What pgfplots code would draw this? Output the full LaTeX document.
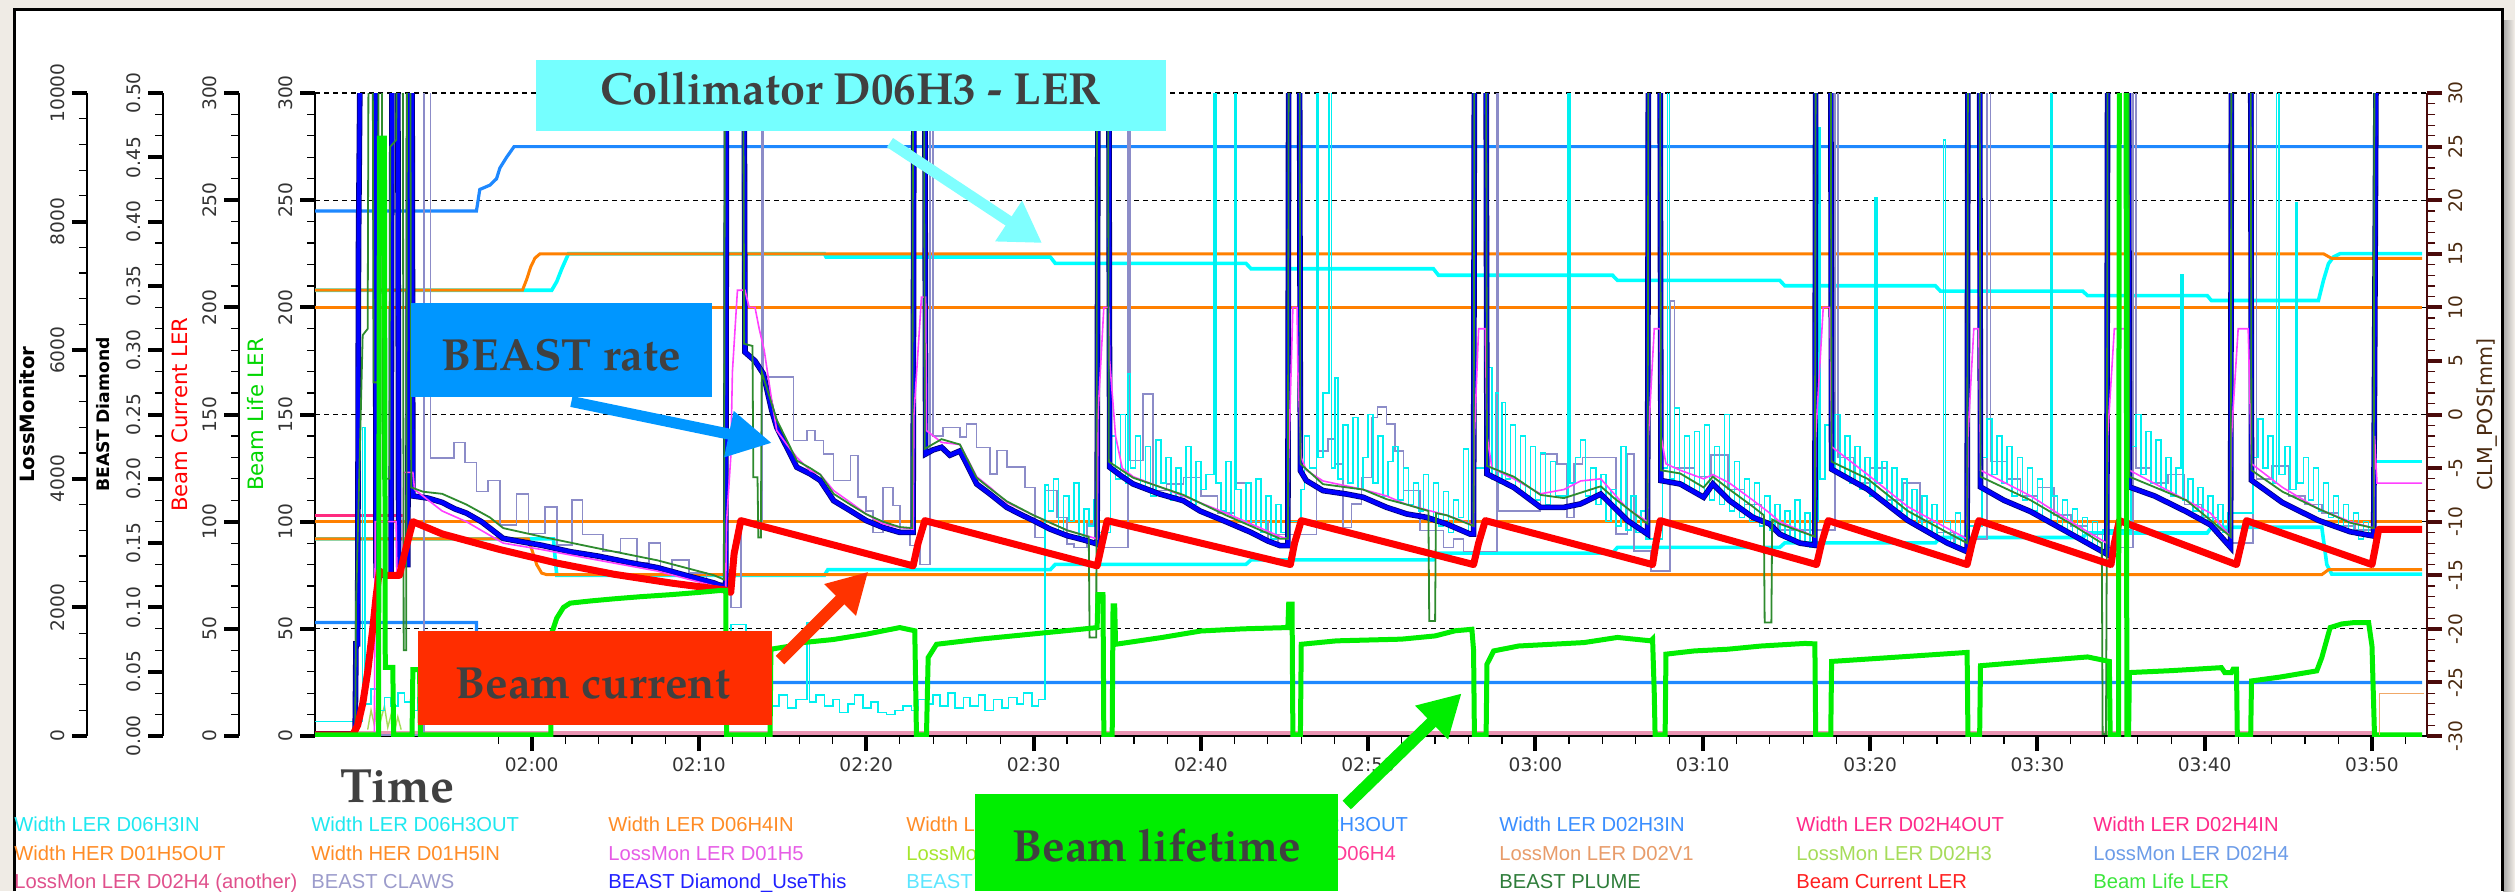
\documentclass[border=0pt]{standalone}
\usepackage{fontspec}
\usepackage{pgfplots}
\pgfplotsset{compat=1.18}
\usepackage{pgfplotstable}
\usetikzlibrary{arrows.meta}
\setmainfont{DejaVu Sans}
\newfontfamily\dejavu{DejaVu Sans}
\newfontfamily\legfont{Liberation Sans}
\IfFontExistsTF{TeX Gyre Pagella}{\newfontfamily\annfont{TeX Gyre Pagella}}{\newfontfamily\annfont{Liberation Serif}}
\newcommand{\tickfont}{\dejavu\fontsize{9.3}{10}\selectfont}
\newcommand{\legf}{\legfont\fontsize{10.1}{11}\selectfont}
\newcommand{\annf}{\annfont\bfseries\fontsize{22.5}{24}\selectfont}

\definecolor{bgbeige}{HTML}{EFEBE5}
\definecolor{cyanC}{HTML}{00FFFF}
\definecolor{orangeC}{HTML}{FF8000}
\definecolor{blueC}{HTML}{1E88FF}
\definecolor{pinkC}{HTML}{FF2A7F}
\definecolor{beamred}{HTML}{FF0000}
\definecolor{lifegreen}{HTML}{00EE00}
\definecolor{diamond}{HTML}{0000FF}
\definecolor{navyC}{HTML}{00007A}
\definecolor{plume}{HTML}{2E8B2E}
\definecolor{magC}{HTML}{FF40FF}
\definecolor{claws}{HTML}{8C8CC8}
\definecolor{fangs}{HTML}{00F0F0}
\definecolor{maroonC}{HTML}{4A0A0A}
\definecolor{maroonT}{HTML}{4A2A10}
\definecolor{ticktext}{HTML}{333333}
\definecolor{anntext}{HTML}{404040}
\definecolor{collbox}{HTML}{75FFFF}
\definecolor{beastbox}{HTML}{0096FF}
\definecolor{currbox}{HTML}{FF2D00}
\definecolor{lifebox}{HTML}{00EE00}
\definecolor{arrcyan}{HTML}{7FFFFF}
\definecolor{arrred}{HTML}{FF3300}
\definecolor{noiseband}{HTML}{E67AA0}
\definecolor{lgC}{HTML}{A6DC5A}
\definecolor{bracketC}{HTML}{F0A868}

\pgfplotsset{
  /pgf/number format/assume math mode=true,
  sideaxis/.style={
    anchor=south west, scale only axis, width=10pt, height=321.5pt,
    hide x axis, axis y line*=left, xmin=0, xmax=1,
    tick align=outside, major tick length=7.5pt, minor tick length=4pt,
    axis line style={line width=1.3pt, black},
    major tick style={line width=2pt, black},
    minor tick style={line width=0.6pt, black},
    yticklabel style={rotate=90, anchor=south, font=\tickfont, text=ticktext},
  },
}

\pgfplotstableread{
t v
107.05 1
109.45 1
109.5 43
109.6 43
109.65 228
109.75 320
110.65 320
110.7 75
111.6 75
111.65 320
112.0 320
112.05 80
112.6 80
112.65 320
112.85 320
112.9 112
113.8 111
114.65 109
115.4 106
116.1 104
117.0 100
117.5 97
118.3 92.2
119.5 90.5
120.6 89
122.3 86
124.0 83.9
125.8 81
127.5 78.6
129.2 75
130.9 71.4
131.6 69.2
131.65 320
132.7 320
132.75 179.1
133.35 175
133.85 169
134.35 151.9
134.65 144
135.25 134.7
135.85 125.4
136.65 122.3
137.25 119.2
138.05 109.8
139.05 105.1
140.0 100.5
141.0 97.3
142.0 95
142.8 95
142.85 320
143.5 320
143.55 131.6
144.0 133.5
144.5 134.7
145.0 131
145.6 133
146.0 127
146.6 117.6
147.4 112.9
148.4 106.7
149.2 103.5
150.0 100.5
151.0 96.5
152.0 93.5
153.0 91.5
153.8 89.6
153.85 320
154.5 320
154.55 125.4
155.3 121
155.95 117.6
157.5 113
158.95 109.8
159.95 105
161.5 100
163.0 95
164.0 91
164.75 88.8
165.2 88.8
165.25 320
165.9 320
165.95 123.8
166.3 119.2
167.3 114.5
168.7 112.9
169.7 111.4
171.1 106.7
172.3 103.6
173.5 102
174.7 98.9
176.1 94.2
176.3 94.2
176.35 320
177.05 320
177.1 122.3
178.7 116
180.3 106.7
181.7 106.7
182.7 108.3
183.9 112.9
184.7 106.7
185.5 100.5
186.7 94.2
186.75 320
187.45 320
187.5 119.2
188.65 117.6
190.05 111.4
190.6 117.6
191.6 109.8
193.0 102
194.0 98.9
194.6 94.2
195.8 90
196.7 89
196.75 320
197.65 320
197.7 124.5
199.85 115.1
202.25 100.6
204.6 90.1
205.8 86
205.85 320
206.55 320
206.6 116.2
208.0 110
209.6 104.7
212.0 94.3
214.15 84.9
214.2 320
215.45 320
215.5 116.2
217.0 112
218.9 104.7
220.35 98.5
221.55 88
221.6 320
222.75 320
222.8 119.3
224.65 108.9
226.8 100.6
228.7 95.3
230.1 93.3
230.15 163
230.25 320
233.0 320
}\beast

\begin{document}
\begin{tikzpicture}
\begin{scope}[x=0.5pt,y=-0.5pt]
\fill[bgbeige] (0,0) rectangle (2515,891);
\shade[left color=black!35, right color=bgbeige] (2503,20) rectangle (2514,891);
\fill[white] (14,9) rectangle (2502,891);
\draw[black, line width=1.5pt] (14,891) -- (14,9) -- (2502,9) -- (2502,891);
% axis titles
\node[rotate=90, font=\dejavu\bfseries\fontsize{9.85}{11}\selectfont, text=black] at (27,414.5) {LossMonitor};
\node[rotate=90, font=\dejavu\bfseries\fontsize{8.6}{10}\selectfont, text=black] at (103,414.5) {BEAST Diamond};
\node[rotate=90, font=\dejavu\fontsize{10.6}{12}\selectfont, text=beamred] at (180,414.5) {Beam Current LER};
\node[rotate=90, font=\dejavu\fontsize{10.6}{12}\selectfont, text=lifegreen!90!black] at (255.5,414.5) {Beam Life LER};
\node[rotate=90, font=\dejavu\fontsize{10.3}{12}\selectfont, text=maroonT] at (2487,414.5) {CLM\_POS[mm]};
% Time
\node[anchor=base west, font={\annfont\bfseries\fontsize{24}{26}\selectfont}, text=anntext, inner sep=0pt] at (340,802) {Time};
% legend
\foreach \x/\y/\c/\t in {
 14/831/1EE8F0/{Width LER D06H3IN},
 311/831/1EE8F0/{Width LER D06H3OUT},
 608/831/FF8C26/{Width LER D06H4IN},
 906/831/FF8C26/{Width LER D06H4OUT},
 1200/831/3A8EFF/{Width LER D02H3OUT},
 1499/831/3A8EFF/{Width LER D02H3IN},
 1796/831/FF2A8A/{Width LER D02H4OUT},
 2093/831/FF2A8A/{Width LER D02H4IN},
 14/860/FF8C26/{Width HER D01H5OUT},
 311/860/FF8C26/{Width HER D01H5IN},
 608/860/E65CE6/{LossMon LER D01H5},
 906/860/A6E62E/{LossMon LER D06H3},
 1200/860/FF3C96/{LossMon LER D06H4},
 1499/860/E89C6A/{LossMon LER D02V1},
 1796/860/A6DC5A/{LossMon LER D02H3},
 2093/860/6C9CE8/{LossMon LER D02H4},
 14/888/E0508C/{LossMon LER D02H4 (another)},
 311/888/9C9CCC/{BEAST CLAWS},
 608/888/2020FF/{BEAST Diamond\_UseThis},
 906/888/5CE6FF/{BEAST FANGS},
 1499/888/2E7D3A/{BEAST PLUME},
 1796/888/FF2020/{Beam Current LER},
 2093/888/3CE63C/{Beam Life LER}}{
  \definecolor{legc}{HTML}{\c}
  \node[anchor=base west, inner sep=0pt, font=\legf, text=legc] at (\x,\y) {\t};
}
\end{scope}

% LossMonitor axis
\begin{axis}[sideaxis, at={(43.5pt,-368pt)}, ymin=0, ymax=10000,
  ytick={0,2000,4000,6000,8000,10000}, yticklabels={0,2000,4000,6000,8000,10000},
  minor y tick num=4, scaled y ticks=false]
\addplot[draw=none] coordinates {(0,0)};
\end{axis}
% BEAST Diamond axis
\begin{axis}[sideaxis, at={(81.5pt,-368pt)}, ymin=0, ymax=0.5,
  ytick={0,0.05,0.1,0.15,0.2,0.25,0.3,0.35,0.4,0.45,0.5},
  yticklabels={0.00,0.05,0.10,0.15,0.20,0.25,0.30,0.35,0.40,0.45,0.50},
  minor y tick num=2, scaled y ticks=false]
\addplot[draw=none] coordinates {(0,0)};
\end{axis}
% Beam Current axis
\begin{axis}[sideaxis, at={(119.5pt,-368pt)}, ymin=0, ymax=300,
  ytick={0,50,...,300}, minor y tick num=4]
\addplot[draw=none] coordinates {(0,0)};
\end{axis}

% right CLM axis
\begin{axis}[at={(157.5pt,-368pt)}, anchor=south west, scale only axis,
  width=1056pt, height=321.5pt, hide x axis, axis y line*=right,
  xmin=0, xmax=1, ymin=-30, ymax=30, ytick={-30,-25,...,30}, minor y tick num=4,
  tick align=outside, major tick length=7.5pt, minor tick length=4pt,
  axis line style={line width=1.3pt, maroonC},
  major tick style={line width=2pt, maroonC},
  minor tick style={line width=0.6pt, maroonC},
  yticklabel style={rotate=90, anchor=north, font=\tickfont, text=maroonT}]
\addplot[draw=none] coordinates {(0,0)};
\end{axis}

% main axis
\begin{axis}[at={(157.5pt,-368pt)}, anchor=south west, scale only axis,
  width=1056pt, height=321.5pt,
  xmin=107.05, xmax=233.29, ymin=0, ymax=300,
  axis x line*=bottom, axis y line*=left,
  axis line style={line width=1.3pt, black},
  tick align=outside, major tick length=7.5pt, minor tick length=4pt,
  major tick style={line width=2pt, black},
  minor tick style={line width=0.6pt, black},
  xtick={120,130,...,230},
  xticklabels={02:00,02:10,02:20,02:30,02:40,02:50,03:00,03:10,03:20,03:30,03:40,03:50},
  minor xtick={118,120,...,232},
  ytick={0,50,...,300}, minor y tick num=4,
  ymajorgrids, grid style={black, line width=0.6pt, dash pattern=on 2.5pt off 2pt},
  xticklabel style={font=\tickfont, text=ticktext},
  yticklabel style={rotate=90, anchor=south, font=\tickfont, text=ticktext},
  clip=true]

% bottom loss-monitor noise band
\addplot[noiseband, line width=2.2pt, opacity=0.8] coordinates {(109.5,1.5)(230.3,1.5)};
\addplot[lgC, line width=0.7pt] coordinates {(110.2,3)(110.4,12)(110.6,5)(110.8,18)(111.0,8)(111.2,14)(111.4,4)(111.6,10)(111.8,2)(112.0,9)(112.2,3)};

% collimator widths: cyan
\addplot[cyanC, line width=1.8pt] coordinates {(107.05,208)(121.2,208)(121.5,212)(121.8,218)(122.2,225)(137.5,225)(137.6,223.5)(151.0,223.5)(151.3,220.5)(162.7,220.5)(163.0,218)(173.9,218)(174.2,215)(184.6,215)(184.9,212.6)(194.6,212.6)(194.9,210.1)(203.9,210.1)(204.2,207.6)(212.7,207.6)(213.0,205.5)(220.15,205.5)(220.4,203.2)(226.8,203.2)(227.1,212.6)(227.4,220.4)(227.7,223.5)(228.1,225.1)(233.0,225.1)};
\addplot[cyanC, line width=1.8pt] coordinates {(107.05,92)(121.3,92)(121.5,75)(137.5,75)(137.7,77.6)(151.0,77.6)(151.3,80.1)(162.7,80.1)(163.0,82.2)(173.9,82.2)(174.2,85.3)(184.6,85.3)(184.9,88.0)(194.6,88.0)(194.9,90.1)(203.9,90.1)(204.2,92.6)(212.7,92.6)(213.0,94.7)(220.15,94.7)(220.4,97.4)(227.0,97.4)(227.3,80)(227.6,75.5)(233.0,75.5)};
% orange
\addplot[orangeC, line width=1.5pt] coordinates {(107.05,200)(233.0,200)};
\addplot[orangeC, line width=1.5pt] coordinates {(107.05,100)(233.0,100)};
\addplot[orangeC, line width=1.5pt] coordinates {(107.05,208)(119.45,208)(119.7,213)(119.95,219)(120.2,223)(120.5,225)(227.1,225)(227.6,222.8)(233.0,222.8)};
\addplot[orangeC, line width=1.5pt] coordinates {(107.05,92)(119.8,92)(120.3,80)(120.6,76)(120.9,75.3)(227.0,75.3)(227.4,77.6)(233.0,77.6)};
% blue
\addplot[blueC, line width=1.6pt] coordinates {(107.05,245)(116.7,245)(116.9,255)(117.5,257)(117.9,260)(118.1,265)(118.5,270)(118.95,275)(233.0,275)};
\addplot[blueC, line width=1.6pt] coordinates {(107.05,53)(116.7,53)(116.75,25)(233.0,25)};
% pink D02H4
\addplot[pinkC, line width=1.6pt] coordinates {(107.05,103)(112.3,103)};

% BEAST CLAWS
\addplot[claws, line width=0.8pt, const plot] coordinates {(107.05,0.5)(113.55,320)(113.95,129.7)(115.35,137)(116.0,127.7)(116.7,114)(117.4,119.3)(118.1,98.5)(119.1,113)(119.8,94.4)(120.8,106.8)(121.5,89)(122.4,110)(123.05,94)(124.25,86)(125.3,92.2)(126.3,80.7)(127.0,90)(127.7,77.6)(128.4,82)(129.4,76)(130.45,71.3)(131.45,70)(131.9,60)(132.5,100)(133.75,320)(133.85,167.4)(135.65,137.9)(136.45,142.5)(136.95,137.9)(137.45,131.6)(138.05,119.2)(139.05,130.8)(139.5,111.4)(140.0,105.1)(140.4,95)(141.0,116)(141.6,107.5)(142.0,95.8)(142.6,88.8)(143.2,80)(143.8,320)(144.0,140)(144.6,144)(145.6,139.4)(146.0,145.6)(146.6,134.7)(147.4,122.3)(147.8,133.2)(148.4,125.4)(149.5,116)(150.1,92.6)(150.7,114.5)(151.4,102)(152.0,89.6)(152.4,88)(153.2,98.9)(153.8,88)(155.65,320)(155.75,128.5)(156.55,159.7)(157.15,114.5)(157.95,117.6)(158.95,120.7)(160.0,112)(161.0,104)(162.0,118)(163.0,100)(164.0,90)(164.6,94)(166.9,320)(167.0,133)(167.6,138.6)(168.0,127)(168.5,97.3)(169.0,108.3)(169.6,120.7)(170.2,148.7)(170.55,153.4)(171.1,145.6)(171.6,133)(172.1,114.5)(173.1,95.8)(174.5,88)(175.1,92)(175.7,86)(177.7,320)(177.8,105.1)(180.3,131.6)(181.3,127)(181.9,102)(182.3,127)(182.8,130)(184.8,94.2)(185.5,131.6)(185.9,86.4)(186.9,77.1)(188.05,203)(188.3,125)(189.5,121)(190.5,131)(191.5,115)(192.5,108)(193.5,100)(194.5,96)(197.9,320)(198.1,130)(199.0,118)(200.0,125)(201.0,110)(202.0,118)(203.0,100)(204.0,95)(205.0,88)(205.8,92)(207.0,320)(207.2,128)(208.2,120)(209.0,112)(210.0,116)(211.0,103)(212.0,98)(213.0,94)(214.0,88)(215.7,320)(215.9,125)(216.8,118)(217.8,122)(218.8,108)(219.8,102)(220.8,96)(221.5,90)(222.9,320)(223.1,120)(224.0,126)(225.0,112)(226.0,108)(227.0,104)(228.0,98)(229.0,96)(230.1,94)(230.15,94)};

% BEAST FANGS (cyan noise)
\addplot[fangs, line width=0.8pt, const plot] coordinates {(107.05,6.7)(109.9,144)(110.05,15)(110.4,22)(110.8,12)(111.2,18)(111.6,14)(112.0,20)(112.4,16)(112.8,12)(113.2,18)(114,15)(115,19)(116,12)(117,17)(118,14)(119,20)(120,13)(121,16)(122,18)(123,12)(124,15)(125,19)(126,14)(127,17)(128,12)(129,16)(130,14)(131,18)(131.9,52)(132.8,15)(133.5,18)(134.3,14)(134.8,19)(135.3,13)(135.8,17)(136.45,53)(136.6,16)(137.0,19)(137.5,14)(138.0,17)(138.4,11)(138.9,15)(139.3,19)(139.8,13)(140.3,16)(140.7,11)(141.2,10)(141.7,12)(142.2,14)(142.7,12)(143.1,17)(143.6,15)(144.0,19)(144.4,14)(144.9,20)(145.3,13)(145.8,18)(146.2,14)(146.7,19)(147.1,12)(147.6,17)(148.1,13)(148.5,18)(149.0,15)(149.4,20)(149.9,14)(150.3,17)(150.7,117)(150.9,105)(151.2,120)(151.5,95)(151.8,112)(152.1,100)(152.4,118)(152.7,92)(153.0,106)(153.3,98)(153.6,110)(153.85,95)(154.6,140)(154.9,120)(155.2,150)(155.5,118)(155.65,169)(155.8,125)(156.1,140)(156.4,115)(156.7,135)(157.0,112)(157.3,138)(157.6,118)(157.9,130)(158.2,110)(158.5,125)(158.8,112)(159.1,135)(159.4,108)(159.7,128)(160.0,115)(160.3,122)(160.8,320)(160.9,118)(161.2,105)(161.5,128)(161.8,102)(162.0,320)(162.1,115)(162.4,100)(162.7,118)(163.0,98)(163.3,120)(163.6,95)(163.9,112)(164.2,92)(164.5,108)(164.8,95)(165.1,133)(165.3,100)(166.0,115)(166.2,140)(166.5,125)(166.9,320)(167.0,130)(167.3,160)(167.65,320)(167.8,125)(168.0,167)(168.2,120)(168.5,145)(168.8,118)(169.1,148.7)(169.4,115)(169.7,130)(170.0,150)(170.3,118)(170.6,140)(170.9,112)(171.2,128)(171.5,135)(171.8,110)(172.1,125)(172.4,108)(172.7,118)(173.0,105)(173.3,122)(173.6,100)(173.9,118)(174.2,98)(174.5,114)(174.8,95)(175.1,110)(175.4,102)(175.7,134)(176.0,94)(176.3,125)(177.2,172)(177.4,120)(177.6,160)(177.8,118)(178.0,155.7)(178.2,120)(178.5,145)(178.8,115)(179.1,140)(179.4,112)(179.7,135)(180.0,110)(180.3,132)(180.6,108)(180.9,128)(181.2,112)(181.95,320)(182.05,118)(182.4,130)(182.7,138)(183.0,112)(183.3,125)(183.6,108)(183.9,122)(184.2,100)(184.5,115)(184.8,98)(185.1,135)(185.4,96)(185.7,112)(186.0,95)(186.3,105)(186.6,92)(187.6,125)(187.9,320)(188.0,120)(188.3,153)(188.6,118)(188.9,140)(189.2,115)(189.5,142)(189.8,112)(190.1,145)(190.4,110)(190.7,135)(191.0,108)(191.3,150)(191.6,105)(191.9,128)(192.2,102)(192.5,120)(192.8,100)(193.1,118)(193.4,98)(193.7,112)(194.0,96)(194.3,108)(194.6,94)(194.9,105)(195.2,92)(195.5,110)(195.8,90)(196.1,104)(196.4,88)(196.7,100)(196.9,284)(197.0,120)(197.3,145)(197.6,125)(197.9,150)(198.2,122)(198.5,140)(198.8,118)(199.1,135)(199.4,115)(199.7,130)(200.0,112)(200.3,251)(200.4,118)(200.7,128)(201.0,108)(201.3,125)(201.6,105)(201.9,120)(202.2,100)(202.5,115)(202.8,98)(203.1,112)(203.4,95)(203.7,108)(204.0,92)(204.4,278)(204.5,100)(204.8,90)(205.1,104)(205.4,88)(205.7,98)(206.7,130)(207.0,148)(207.3,122)(207.6,140)(207.9,118)(208.2,135)(208.5,112)(208.8,130)(209.1,110)(209.4,125)(209.7,105)(210.0,120)(210.3,100)(210.8,320)(210.9,112)(211.2,98)(211.5,110)(211.8,95)(212.1,106)(212.4,92)(212.7,102)(213.0,90)(213.3,100)(213.6,88)(213.9,96)(215.6,135)(215.9,150)(216.2,122)(216.5,142)(216.8,118)(217.1,138)(217.4,115)(217.7,130)(218.0,112)(218.3,125)(218.6,215)(218.7,110)(219.0,120)(219.3,105)(219.6,116)(219.9,100)(220.2,112)(220.5,98)(220.8,108)(221.1,95)(221.4,104)(222.9,130)(223.2,148)(223.5,125)(223.8,140)(224.1,118)(224.3,320)(224.45,122)(224.8,135)(225.1,115)(225.45,249)(225.55,118)(225.9,130)(226.2,110)(226.5,125)(226.8,105)(227.1,118)(227.4,102)(227.7,112)(228.0,98)(228.3,108)(228.6,95)(228.9,104)(229.2,92)(229.5,100)(229.8,95)(230.1,93)(230.15,93)};

% BEAST Diamond (navy outline + blue)
\addplot[navyC, line width=2.8pt] table[x=t,y=v] {\beast};
\addplot[diamond, line width=2.0pt] table[x=t,y=v] {\beast};

% LossMon D01H5 (magenta)
\addplot[magC, line width=0.8pt] coordinates {(107.05,0.5)(110.6,0.5)(110.65,100)(111.9,100)(111.95,75)(112.3,75)(112.35,123)(112.9,123)(113.0,115)(114.65,105)(116.1,100)(118.3,90)(120.6,87)(124.0,82)(127.5,77)(130.9,70)(131.6,69)(131.65,100)(131.9,130)(132.0,170)(132.3,208)(132.75,208)(133.0,200)(133.35,200)(133.6,190)(133.9,180)(134.35,156.5)(134.65,142.5)(135.25,136)(135.85,130)(136.65,123.8)(137.25,122)(138.05,114.5)(139.05,109)(140.0,103.6)(141.0,99)(142.0,97.3)(142.8,96.5)(142.85,150)(143.3,204.8)(143.55,204.8)(143.6,142.5)(144.5,137)(145.6,136)(146.0,130)(146.6,121)(147.4,116)(148.4,109)(150.0,103)(152.0,96)(153.8,92)(153.85,150)(154.2,200)(154.5,200)(154.55,175)(154.9,140)(155.3,125)(155.95,121)(158.95,112)(161.5,104)(164.75,93)(165.2,92)(165.25,130)(165.5,200)(165.75,200)(165.8,170)(166.0,130)(166.3,124)(167.3,119)(169.7,115)(171.1,112)(172.3,108)(174.7,103)(176.1,99)(176.3,98)(176.35,140)(176.6,190)(177.0,190)(177.1,140)(177.4,125)(178.7,120)(180.3,113)(181.7,115)(182.7,119)(183.9,120)(184.7,113)(185.5,106)(186.7,100)(186.75,140)(187.1,190)(187.45,190)(187.5,140)(187.8,127)(188.65,124)(190.05,120)(190.6,122)(191.6,118)(193.0,110)(194.0,104)(194.6,100)(196.7,93)(196.75,140)(197.2,200)(197.6,200)(197.7,135)(199.85,122)(202.25,107)(204.6,97)(205.8,92)(205.85,140)(206.2,190)(206.5,190)(206.6,124)(209.6,112)(212.0,100)(214.15,90)(214.2,140)(214.6,190)(215.3,190)(215.5,124)(218.9,110)(220.35,104)(221.55,93)(221.6,140)(222.0,190)(222.6,190)(222.8,127)(224.65,116)(226.8,106)(228.7,100)(230.1,97)(230.15,140)(230.3,118)(233.0,118)};

% BEAST PLUME (dark green)
\addplot[plume, line width=0.9pt] coordinates {(107.05,1)(109.45,1)(109.5,60)(109.9,187)(110.2,190)(110.25,320)(110.5,320)(110.55,165)(110.8,165)(110.85,320)(111.05,320)(111.1,120)(111.5,120)(111.55,275)(111.9,278)(111.95,320)(112.3,320)(112.35,40)(112.5,40)(112.55,320)(112.75,320)(112.8,116)(113.5,114)(114.65,113)(116.1,108)(117.5,102)(118.3,97)(120.6,93)(124.0,87.5)(127.5,82)(130.9,75)(131.5,73)(131.55,320)(132.65,320)(132.7,183)(133.2,182)(133.25,120.7)(133.5,120.7)(133.55,92.6)(133.7,92.6)(133.75,170)(134.35,155)(134.65,147.5)(135.25,138)(135.85,128.5)(136.65,125)(137.25,122)(138.05,113)(139.05,108)(140.0,103.5)(141.0,100)(142.0,97.5)(142.75,97)(142.8,320)(143.45,320)(143.5,134)(144.5,138.5)(145.6,136)(146.6,120.5)(147.4,115.5)(148.4,109.5)(150.0,103)(152.0,96)(153.3,93)(153.35,46)(153.75,46)(153.8,320)(154.45,320)(154.5,128)(155.95,120.5)(158.95,112.5)(161.5,103)(164.75,92)(165.2,92)(165.25,320)(165.9,320)(165.95,127)(167.3,117.5)(169.7,115)(171.1,110.5)(172.3,108)(173.6,105)(173.65,53.7)(174.0,53.7)(174.05,104)(174.7,103)(176.3,98)(176.35,320)(177.05,320)(177.1,126)(178.7,121)(180.3,112.5)(181.7,111)(183.9,116.5)(184.7,111)(186.7,99)(186.75,320)(187.45,320)(187.5,124)(188.65,122.5)(190.05,116)(190.6,121)(191.6,115)(193.0,107)(193.65,103)(193.7,53)(194.1,53)(194.15,101)(194.6,99)(196.7,93)(196.75,320)(197.65,320)(197.7,128)(199.85,120)(202.25,105)(204.6,95)(205.8,90)(205.85,320)(206.55,320)(206.6,121)(209.6,110)(212.0,99)(213.85,90)(213.9,1)(214.1,1)(214.15,89)(214.2,320)(215.45,320)(215.5,121)(218.9,110)(221.55,93)(221.6,320)(222.75,320)(222.8,124)(224.65,114)(226.8,106)(228.7,99.5)(230.1,97)(230.15,320)(233.0,320)};

% Beam Current LER (red)
\addplot[beamred, line width=3.5pt, line join=round] coordinates {(107.05,0.5)(109.3,0.5)(109.6,5)(109.9,15)(110.2,30)(110.5,50)(110.7,65)(110.9,77)(111.3,75)(112.1,75)(112.4,85)(112.9,100)(114.65,94.3)(118.1,87)(121.5,80.7)(124.9,75.5)(128.4,71.3)(131.5,68.2)(131.9,67)(132.1,85)(132.5,100.5)(142.8,79.4)(143.1,90)(143.5,100.5)(153.8,79.4)(154.1,90)(154.4,100.5)(165.35,80)(165.6,90)(166.0,100.5)(176.3,80)(176.6,90)(177.0,100.5)(187.0,80)(187.2,90)(187.45,100.5)(196.8,80)(197.1,90)(197.5,100.5)(205.8,80)(206.1,90)(206.5,100.5)(214.4,80)(214.6,90)(214.9,100.5)(221.9,80)(222.2,90)(222.5,100.5)(230.0,80)(230.2,88)(230.4,96.4)(233.0,96.4)};

% Beam Life LER (green)
\addplot[lifegreen, line width=2.5pt] coordinates {(107.05,0.5)(110.85,0.5)(110.9,279)(111.2,279)(111.25,32)(111.7,32)(111.75,0.5)(112.85,0.5)(112.9,31)(113.3,31)(113.35,0.5)(121.15,0.5)(121.2,48)(121.5,55)(121.9,60)(122.3,62)(123.5,63)(124.9,64)(126.5,65)(128.4,66)(130.0,67)(131.4,68)(131.6,68)(131.65,0.5)(134.25,0.5)(134.3,40.5)(135.5,42)(136.2,43.6)(138.0,45)(140.0,47.5)(142.0,50.6)(142.9,49.1)(143.0,0.5)(143.6,0.5)(143.7,36.6)(144.2,42.8)(146.8,45.2)(149.8,47.5)(152.8,49.8)(153.8,50.6)(153.85,66)(154.15,66)(154.2,0.5)(154.7,0.5)(154.75,60.7)(154.85,60.7)(154.9,42.8)(157.7,46)(160.0,49)(162.5,50)(165.2,50.6)(165.25,61.5)(165.45,61.5)(165.5,0.5)(165.95,0.5)(166.0,42.8)(168.1,44.4)(172.0,45.2)(174.0,46.7)(175.2,49.1)(176.2,49.8)(176.3,40)(176.35,0.5)(177.05,0.5)(177.1,33.5)(177.5,39.7)(179.0,42)(182.9,43.6)(184.9,46)(186.9,44.4)(187.0,45.2)(187.1,20)(187.15,0.5)(187.75,0.5)(187.8,38.2)(189.5,39.7)(191.5,40.5)(193.5,42)(196.1,43.2)(196.7,43)(196.75,0.5)(197.65,0.5)(197.7,34.8)(201.0,36.5)(205.8,39)(205.85,0.5)(206.55,0.5)(206.6,32.8)(210.0,35)(213.0,36.9)(214.3,34.8)(214.35,0.5)(214.85,0.5)(214.9,320)(215.3,320)(215.35,0.5)(215.45,0.5)(215.5,29.6)(218.0,30.5)(221.0,31.9)(221.2,29.6)(221.6,29.6)(221.7,31.2)(221.9,31.2)(221.95,0.5)(222.75,0.5)(222.8,25.7)(224.5,27.5)(226.7,30.4)(227.0,36.6)(227.5,50.6)(228.2,52.3)(228.9,52.9)(229.8,52.9)(230.0,42)(230.15,0.5)(233.0,0.5)};

% right-end extras
\addplot[cyanC, line width=1.8pt] coordinates {(230.3,128)(233.0,128)};
\addplot[bracketC, line width=0.6pt] coordinates {(230.45,0.5)(230.45,20)(233.1,20)};
\end{axis}

% annotations
\begin{scope}[x=0.5pt,y=-0.5pt]
\draw[arrcyan, line width=5.5pt, -{Triangle[length=20pt,width=23pt]}] (890,142.6) -- (1042,243);
\draw[beastbox, line width=5.5pt, -{Triangle[length=22pt,width=22pt]}] (571.4,401.5) -- (772,443);
\draw[arrred, line width=6pt, -{Triangle[length=20pt,width=21pt]}] (780,660) -- (868.3,571.7);
\draw[lifebox, line width=6pt, -{Triangle[length=21pt,width=22pt]}] (1346.7,805) -- (1461.7,693.3);
\fill[collbox] (535.8,60) rectangle (1165.5,130.5);
\node[anchor=base, inner sep=0pt, font=\annf, text=anntext] at (850.7,104.6) {Collimator D06H3 - LER};
\fill[beastbox] (410.6,303.3) rectangle (712,397);
\node[anchor=base, inner sep=0pt, font=\annf, text=anntext] at (561.3,370) {BEAST rate};
\fill[currbox] (418,631.4) rectangle (772,725.2);
\node[anchor=base, inner sep=0pt, font=\annf, text=anntext] at (593,698.4) {Beam current};
\fill[lifebox] (975,794) rectangle (1338.3,891);
\node[anchor=base, inner sep=0pt, font=\annf, text=anntext] at (1156.5,861.7) {Beam lifetime};
\pgfresetboundingbox
\useasboundingbox (0,0) rectangle (2515,891);
\end{scope}
\end{tikzpicture}
\end{document}
